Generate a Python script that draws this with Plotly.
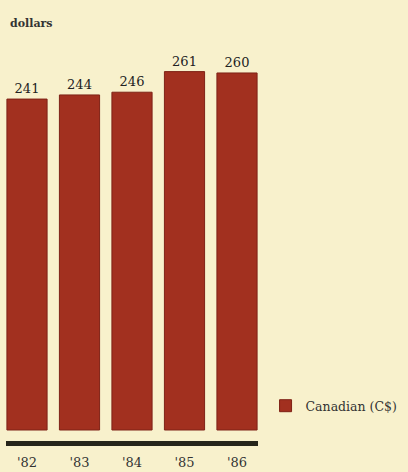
import plotly.graph_objects as go

years = ["'82", "'83", "'84", "'85", "'86"]
values = [241, 244, 246, 261, 260]
series_name = "Canadian (C$)"

bg = "#F8F1CC"
bar_color = "#A2301F"
font_family = "DejaVu Serif"

fig = go.Figure()
fig.add_trace(go.Bar(
    x=years,
    y=values,
    name=series_name,
    marker=dict(color=bar_color, line=dict(color="#7E2216", width=1)),
    text=[str(v) for v in values],
    textposition="outside",
    textfont=dict(family=font_family, size=13, color="#222222"),
    cliponaxis=False,
    showlegend=True,
))

fig.update_layout(
    width=408,
    height=472,
    paper_bgcolor=bg,
    plot_bgcolor=bg,
    margin=dict(l=6, r=150, t=30, b=31, autoexpand=False),
    bargap=0.235,
    font=dict(family=font_family, size=13, color="#222222"),
    legend=dict(
        x=1.03, y=0.085, xanchor="left", yanchor="middle",
        bgcolor="rgba(0,0,0,0)",
        font=dict(family=font_family, size=12.5, color="#333333"),
        itemwidth=30,
    ),
    annotations=[dict(
        text="<b>dollars</b>", x=0, y=1, xref="paper", yref="paper",
        xanchor="left", yanchor="bottom", xshift=2, yshift=-2,
        showarrow=False, font=dict(family=font_family, size=11, color="#333333"),
    )],
)

fig.update_xaxes(
    range=[-0.4, 4.4],
    showline=True, linecolor="#26251A", linewidth=5,
    showgrid=False, ticks="", tickfont=dict(family=font_family, size=13, color="#333333"),
    ticklabelstandoff=5,
)
fig.update_yaxes(
    range=[-8, 291.3],
    visible=False, showgrid=False, zeroline=False,
)

fig.write_html("out.html")
